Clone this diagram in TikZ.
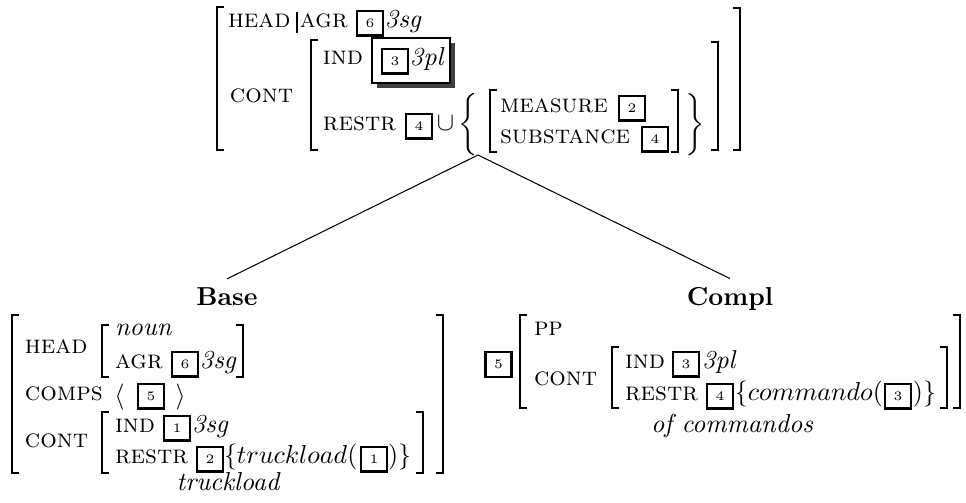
\documentclass[tikz,border=0pt]{standalone}
\usepackage{amsmath}
% square brackets of an attribute-value matrix: x, top, bottom
\newcommand\LB[3]{\draw[brk] ({#1+7},#2) -- (#1,#2) -- (#1,#3) -- ({#1+7},#3);}
\newcommand\RB[3]{\draw[brk] ({#1-7},#2) -- (#1,#2) -- (#1,#3) -- ({#1-7},#3);}
\begin{document}
\begin{tikzpicture}[x=0.385pt,y=-0.385pt,
  txt/.style={anchor=base west, inner sep=0pt, outer sep=0pt},
  feat/.style={txt, font=\scshape},
  tagbox/.style={draw, line width=0.8pt, minimum width=10pt, minimum height=9.6pt,
                 inner sep=0pt, font=\tiny},
  delim/.style={anchor=center, inner sep=0pt, outer sep=0pt},
  brk/.style={line width=0.5pt},
  daughter/.style={anchor=base, inner sep=3pt, font=\bfseries},
  branch/.style={line width=0.4pt}]
\useasboundingbox (0,0) rectangle (966,502);

% ---------- mother ----------
\LB{217}{7}{150}
\RB{740}{8}{150}
\node[feat] (mhead) at (228,27) {head};
\draw[line width=0.4pt] (297,12) -- (297,33);
\node[feat] (magr) at (300,27) {agr};
\node[tagbox] (mt6) at (370,23) {6};
\node[txt] (m3sg) at (385,27) {\itshape 3sg};
\node[feat] (mcont) at (230,102) {cont};
\LB{311}{40}{150}
\RB{718}{42}{150}
\node[feat] (mind) at (323,64) {ind};
\fill[black!75] (377,43) rectangle (455,88);
\draw[line width=0.8pt, fill=white] (372,38) rectangle (450,83);
\node[tagbox] (mt3) at (395,61) {3};
\node[txt] (m3pl) at (410,65) {\itshape 3pl};
\node[feat] (mrestr) at (323,130) {restr};
\node[tagbox] (mt4) at (419,126) {4};
\node[txt] (mcup) at (437,130) {$\cup$};
\node[delim] (mlbrace) at (470,124.5) {$\left\{\vcenter{\hbox{\rule{0pt}{21pt}}}\right.$};
\LB{490}{90}{152}
\node[feat] (mmeas) at (500,112) {measure};
\node[tagbox] (mt2) at (632,108) {2};
\node[feat] (msubst) at (500,143) {substance};
\node[tagbox] (mt4b) at (655,139) {4};
\RB{678}{90}{152}
\node[delim] (mrbrace) at (694,124.5) {$\left.\vcenter{\hbox{\rule{0pt}{21pt}}}\right\}$};
\coordinate (apex) at (478,155);

% ---------- base daughter ----------
\node[daughter] (base) at (227,305) {Base};
\LB{12}{315}{473}
\RB{443}{315}{473}
\node[feat] (bhead) at (25,353) {head};
\LB{102}{325}{377}
\RB{243}{325}{377}
\node[txt] (bnoun) at (115,335) {\itshape noun};
\node[feat] (bagr) at (115,368) {agr};
\node[tagbox] (bt6) at (185,364) {6};
\node[txt] (b3sg) at (200,368) {\itshape 3sg};
\node[feat] (bcomps) at (25,400) {comps};
\node[delim] (blangle) at (121,396.5) {$\left\langle\vcenter{\hbox{\rule{0pt}{10pt}}}\right.$};
\node[tagbox] (bt5) at (151,396) {5};
\node[delim] (brangle) at (179,396.5) {$\left.\vcenter{\hbox{\rule{0pt}{10pt}}}\right\rangle$};
\node[feat] (bcont) at (25,447) {cont};
\LB{102}{412}{473}
\RB{423}{412}{473}
\node[feat] (bind) at (115,432) {ind};
\node[tagbox] (bt1) at (177,428) {1};
\node[txt] (b3sgb) at (192,432) {\itshape 3sg};
\node[feat] (brestr) at (115,463) {restr};
\node[tagbox] (bt2) at (210,459) {2};
\node[txt] (bpred) at (224,463) {$\{truckload($};
\node[tagbox] (bt1b) at (374,459) {1};
\node[txt] (bclose) at (388,463) {$)\}$};
\node[anchor=base, inner sep=0pt] (bword) at (228,490) {\itshape truckload};

% ---------- complement daughter ----------
\node[daughter] (compl) at (730,305) {Compl};
\node[tagbox] (ct5) at (498.5,364.5) {5};
\LB{520}{315}{408}
\RB{960}{315}{408}
\node[feat] (cpp) at (534,335) {pp};
\node[feat] (ccont) at (534,385) {cont};
\LB{612}{347}{408}
\RB{947}{347}{408}
\node[feat] (cind) at (625,368) {ind};
\node[tagbox] (ct3) at (686,364) {3};
\node[txt] (c3pl) at (702,368) {\itshape 3pl};
\node[feat] (crestr) at (625,400) {restr};
\node[tagbox] (ct4) at (720,396) {4};
\node[txt] (cpred) at (735,400) {$\{commando($};
\node[tagbox] (ct3b) at (898,396) {3};
\node[txt] (cclose) at (913,400) {$)\}$};
\node[anchor=base, inner sep=0pt] (cword) at (732,432) {\itshape of commandos};

% ---------- branches ----------
\draw[branch] (apex) -- (base.north);
\draw[branch] (apex) -- (compl.north);
\end{tikzpicture}
\end{document}
